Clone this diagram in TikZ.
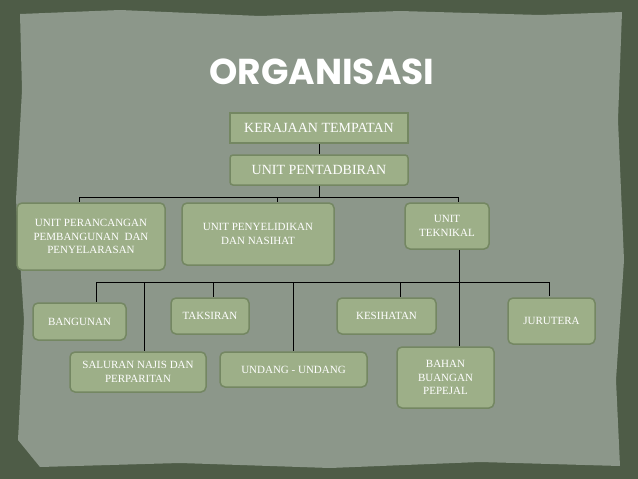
\documentclass[tikz,border=0pt]{standalone}
\usepackage{fontspec}
\setmainfont{Liberation Serif}
\newfontfamily\titlefont{Poppins}
\definecolor{outer}{HTML}{4E5C47}
\definecolor{paper}{HTML}{8C978A}
\definecolor{boxf}{HTML}{9DAF88}
\definecolor{boxd}{HTML}{748762}
\tikzset{
  bx/.style={draw=boxd,line width=1.5pt,fill=boxf,text=white,align=center,inner sep=2pt,font=\fontsize{11}{13.5}\selectfont},
  topbx/.style={bx,rounded corners=0pt,font=\fontsize{14}{16}\selectfont},
  rbx/.style={bx,rounded corners=5pt},
  ln/.style={draw=black,line width=0.8pt}
}
\begin{document}
\begin{tikzpicture}[x=1pt,y=-1pt]
\useasboundingbox (0,0) rectangle (638,479);
\fill[outer] (0,0) rectangle (638,479);
\fill[paper] (20,14) -- (120,10) -- (260,16) -- (400,11) -- (540,15) -- (622,12) -- (618,120) -- (624,260) -- (616,380) -- (620,466) -- (480,462) -- (330,468) -- (180,463) -- (40,467) -- (18,440) -- (24,320) -- (16,200) -- (22,90) -- cycle;
\node[text=white,font=\titlefont\bfseries\fontsize{36}{38}\selectfont] (title) at (322,72) {ORGANISASI};
\node[topbx,minimum width=178,minimum height=30] (k) at (319,128) {KERAJAAN TEMPATAN};
\node[bx,rounded corners=3pt,minimum width=178,minimum height=30,font=\fontsize{14}{16}\selectfont] (p) at (319,170) {UNIT PENTADBIRAN};
\node[rbx,minimum width=148,minimum height=67] (u1) at (91,236.5) {UNIT PERANCANGAN\\PEMBANGUNAN~ DAN\\PENYELARASAN};
\node[rbx,minimum width=152,minimum height=62] (u2) at (258,234) {UNIT PENYELIDIKAN\\DAN NASIHAT};
\node[rbx,minimum width=84,minimum height=46] (u3) at (447,226) {UNIT\\TEKNIKAL};
\node[rbx,minimum width=93,minimum height=37] (b1) at (79.5,321.5) {BANGUNAN};
\node[rbx,minimum width=136,minimum height=40] (b2) at (138,372) {SALURAN NAJIS DAN\\PERPARITAN};
\node[rbx,minimum width=78,minimum height=36] (b3) at (210,316) {TAKSIRAN};
\node[rbx,minimum width=147,minimum height=35] (b4) at (293.5,369.5) {UNDANG - UNDANG};
\node[rbx,minimum width=99,minimum height=36] (b5) at (386.5,316) {KESIHATAN};
\node[rbx,minimum width=97,minimum height=61] (b6) at (445.5,377.5) {BAHAN\\BUANGAN\\PEPEJAL};
\node[rbx,minimum width=87,minimum height=46] (b7) at (551.5,321) {JURUTERA};
\coordinate (j1) at (319,197);
\draw[ln] (k) -- (p);
\draw[ln] (p.south) -- (j1);
\draw[ln] (79,197) -- (458,197);
\draw[ln] (79,197) -- (u1.north -| 79,0);
\draw[ln] (277,197) -- (u2.north -| 277,0);
\draw[ln] (458,197) -- (u3.north -| 458,0);
\draw[ln] (u3.south -| 459,0) -- (b6.north -| 459,0);
\draw[ln] (96,282) -- (549,282);
\draw[ln] (96,282) -- (b1.north -| 96,0);
\draw[ln] (144,282) -- (b2.north -| 144,0);
\draw[ln] (213,282) -- (b3.north -| 213,0);
\draw[ln] (293,282) -- (b4.north -| 293,0);
\draw[ln] (400,282) -- (b5.north -| 400,0);
\draw[ln] (549,282) -- (549,296);
\end{tikzpicture}
\end{document}
